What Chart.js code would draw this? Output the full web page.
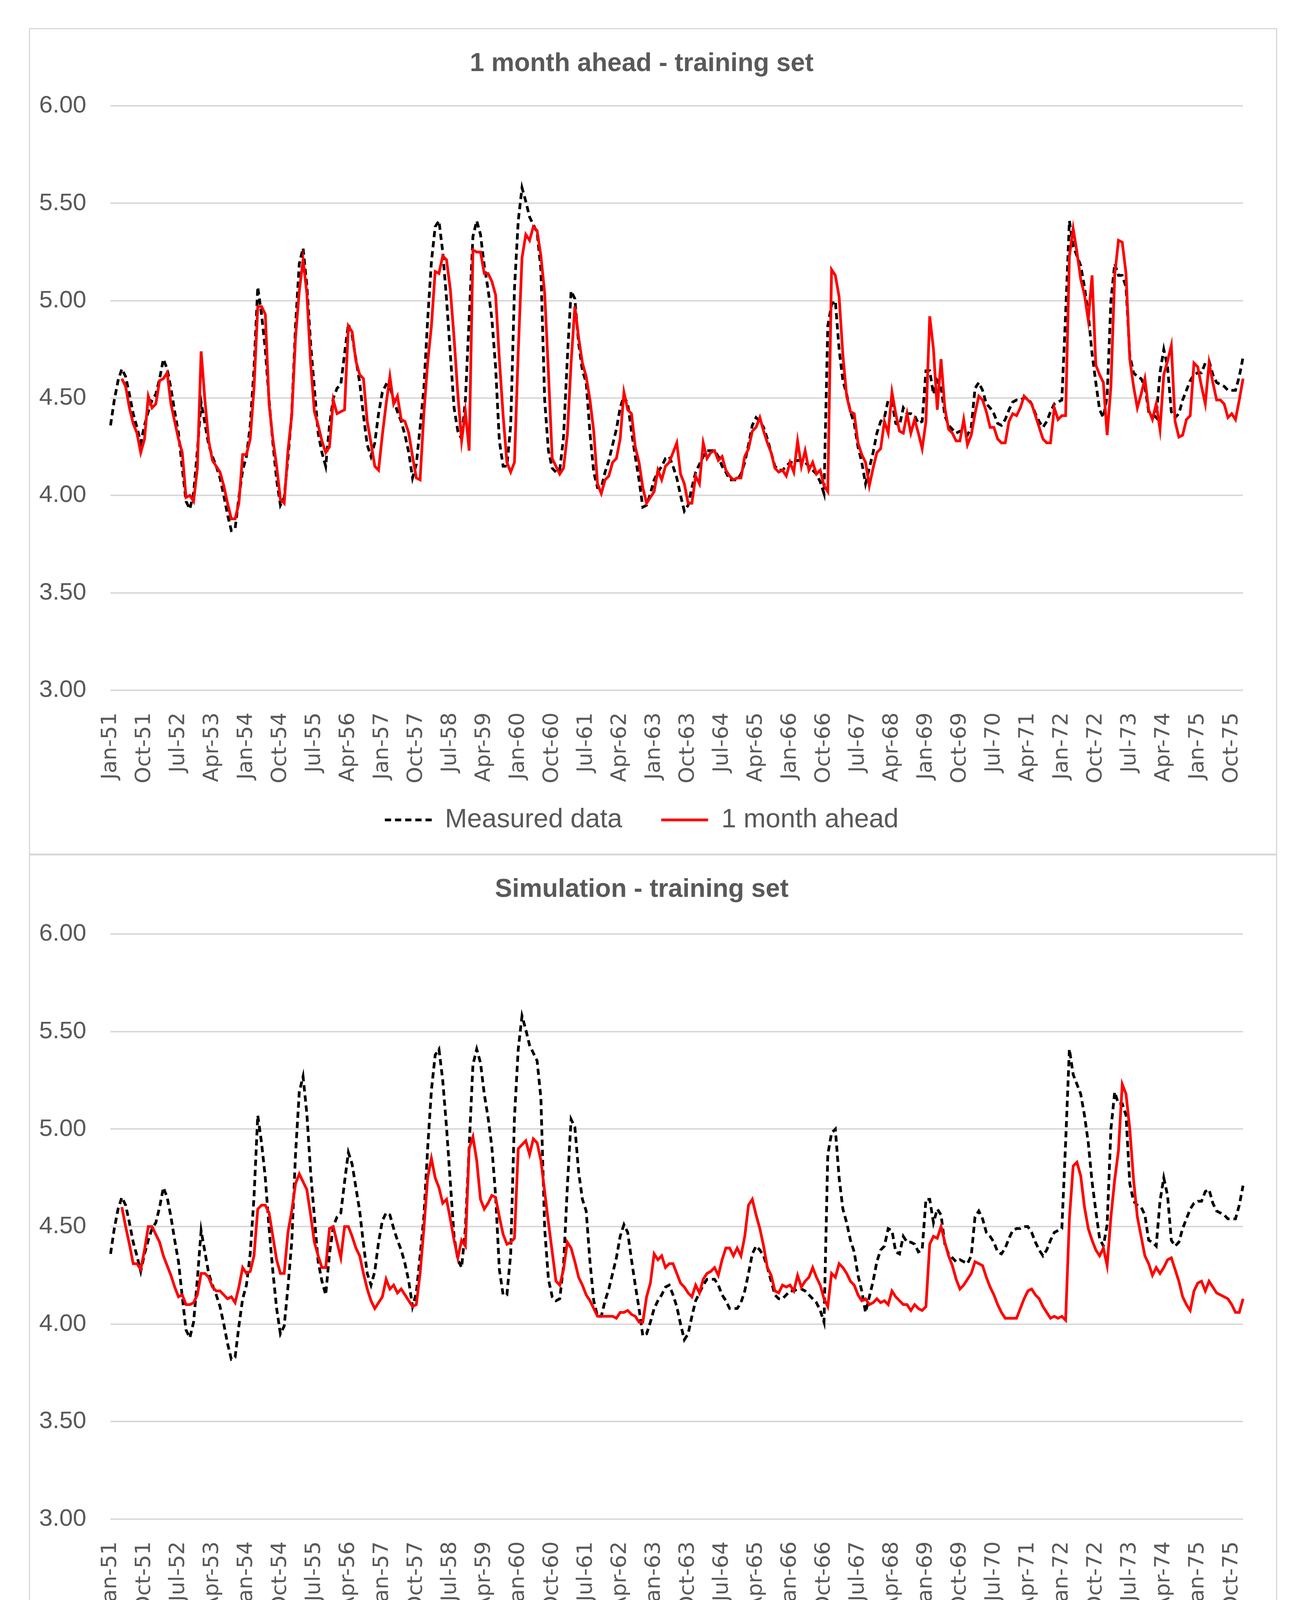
<!DOCTYPE html>
<html>
<head>
<meta charset="utf-8">
<script src="https://cdn.jsdelivr.net/npm/chart.js@4.4.1/dist/chart.umd.min.js"></script>
<style>
  body { margin: 0; background: #fff; width: 3331px; height: 4386px; position: relative; }
  .box { position: absolute; box-sizing: border-box; border: 3px solid #d9d9d9; }
  canvas { position: absolute; }
</style>
</head>
<body>
<div class="box" style="left:74px; top:72px; width:3196px; height:2116px;"></div>
<div class="box" style="left:74px; top:2187px; width:3196px; height:2122px;"></div>
<canvas id="top" width="3192" height="2110" style="left:76px; top:74px;"></canvas>
<canvas id="bottom" width="3192" height="2116" style="left:76px; top:2190px;"></canvas>
<script>
//-------------------- DATA -------------------
const monthNames = ['Jan','Feb','Mar','Apr','May','Jun','Jul','Aug','Sep','Oct','Nov','Dec'];
const categories = [];
for (let yr = 51; yr <= 76; yr++) {
    monthNames.forEach(m => categories.push(m + '-' + yr));
}
categories.length = 301; // Jan-51 .. Jan-76

// every 9th month gets a label, like the original axis
const tickStep = 9;
const yTicks = [3.0, 3.5, 4.0, 4.5, 5.0, 5.5, 6.0];

const measured = [
    4.36, 4.49, 4.59, 4.65, 4.61, 4.52, 4.42, 4.35, 4.27, 4.36,
    4.43, 4.49, 4.52, 4.60, 4.70, 4.65, 4.55, 4.43, 4.32, 4.14,
    3.97, 3.93, 4.01, 4.23, 4.48, 4.37, 4.26, 4.20, 4.15, 4.09,
    4.00, 3.90, 3.82, 3.83, 3.99, 4.13, 4.20, 4.36, 4.65, 5.07,
    4.93, 4.75, 4.49, 4.27, 4.08, 3.95, 3.99, 4.19, 4.42, 4.87,
    5.19, 5.27, 5.08, 4.78, 4.55, 4.32, 4.22, 4.15, 4.36, 4.50,
    4.55, 4.57, 4.73, 4.88, 4.82, 4.70, 4.58, 4.41, 4.26, 4.20,
    4.27, 4.42, 4.53, 4.57, 4.56, 4.49, 4.43, 4.38, 4.31, 4.22,
    4.09, 4.16, 4.35, 4.55, 4.90, 5.20, 5.38, 5.41, 5.25, 5.01,
    4.73, 4.45, 4.33, 4.29, 4.49, 4.91, 5.33, 5.41, 5.34, 5.18,
    5.06, 4.91, 4.66, 4.28, 4.15, 4.15, 4.36, 5.06, 5.41, 5.58,
    5.51, 5.43, 5.39, 5.35, 5.16, 4.49, 4.23, 4.14, 4.12, 4.13,
    4.30, 4.70, 5.05, 5.01, 4.78, 4.64, 4.58, 4.32, 4.12, 4.04,
    4.04, 4.12, 4.18, 4.26, 4.34, 4.45, 4.51, 4.47, 4.33, 4.20,
    4.08, 3.94, 3.95, 4.01, 4.08, 4.12, 4.15, 4.19, 4.20, 4.15,
    4.09, 4.00, 3.92, 3.95, 4.04, 4.12, 4.16, 4.20, 4.23, 4.23,
    4.23, 4.20, 4.15, 4.12, 4.08, 4.08, 4.08, 4.11, 4.17, 4.26,
    4.36, 4.40, 4.38, 4.35, 4.29, 4.22, 4.15, 4.13, 4.13, 4.15,
    4.17, 4.17, 4.18, 4.18, 4.17, 4.15, 4.13, 4.11, 4.07, 4.01,
    4.87, 4.98, 5.00, 4.75, 4.59, 4.52, 4.43, 4.37, 4.25, 4.17,
    4.06, 4.14, 4.22, 4.32, 4.38, 4.40, 4.49, 4.48, 4.37, 4.36,
    4.45, 4.42, 4.42, 4.41, 4.37, 4.38, 4.64, 4.64, 4.52, 4.59,
    4.56, 4.41, 4.36, 4.34, 4.32, 4.33, 4.32, 4.31, 4.35, 4.55,
    4.58, 4.54, 4.47, 4.45, 4.42, 4.37, 4.36, 4.39, 4.44, 4.48,
    4.49, 4.49, 4.50, 4.50, 4.47, 4.42, 4.38, 4.35, 4.38, 4.43,
    4.47, 4.48, 4.49, 4.93, 5.41, 5.28, 5.23, 5.18, 5.07, 4.93,
    4.73, 4.58, 4.44, 4.40, 4.51, 5.00, 5.19, 5.13, 5.13, 5.07,
    4.72, 4.63, 4.61, 4.60, 4.56, 4.43, 4.42, 4.40, 4.63, 4.75,
    4.66, 4.43, 4.40, 4.42, 4.49, 4.54, 4.59, 4.62, 4.63, 4.63,
    4.68, 4.69, 4.62, 4.58, 4.57, 4.56, 4.54, 4.54, 4.54, 4.61,
    4.71
];

const oneMonthAhead = [
    null, null, null, 4.60, 4.56, 4.45, 4.37, 4.32, 4.22, 4.29,
    4.51, 4.45, 4.47, 4.59, 4.60, 4.63, 4.47, 4.38, 4.29, 4.22,
    3.99, 4.00, 3.97, 4.14, 4.74, 4.49, 4.28, 4.18, 4.15, 4.12,
    4.05, 3.96, 3.88, 3.88, 3.96, 4.21, 4.21, 4.29, 4.55, 4.97,
    4.97, 4.93, 4.47, 4.29, 4.15, 3.98, 3.96, 4.23, 4.41, 4.81,
    5.05, 5.21, 5.04, 4.68, 4.43, 4.36, 4.28, 4.22, 4.25, 4.49,
    4.42, 4.43, 4.44, 4.87, 4.84, 4.69, 4.62, 4.60, 4.38, 4.27,
    4.15, 4.13, 4.31, 4.47, 4.61, 4.47, 4.51, 4.39, 4.38, 4.32,
    4.20, 4.09, 4.08, 4.42, 4.68, 4.87, 5.15, 5.14, 5.23, 5.21,
    5.06, 4.81, 4.52, 4.28, 4.43, 4.23, 5.26, 5.25, 5.25, 5.14,
    5.14, 5.10, 5.03, 4.70, 4.41, 4.17, 4.12, 4.17, 4.74, 5.22,
    5.34, 5.31, 5.38, 5.36, 5.23, 5.04, 4.63, 4.19, 4.15, 4.11,
    4.14, 4.31, 4.68, 4.97, 4.81, 4.68, 4.61, 4.49, 4.33, 4.06,
    4.01, 4.08, 4.10, 4.17, 4.19, 4.29, 4.53, 4.44, 4.42, 4.25,
    4.17, 4.04, 3.96, 3.99, 4.02, 4.13, 4.08, 4.15, 4.17, 4.22,
    4.27, 4.11, 4.06, 3.96, 3.96, 4.10, 4.06, 4.27, 4.19, 4.22,
    4.23, 4.18, 4.20, 4.13, 4.10, 4.08, 4.09, 4.09, 4.20, 4.24,
    4.33, 4.35, 4.40, 4.33, 4.27, 4.22, 4.14, 4.12, 4.13, 4.10,
    4.17, 4.12, 4.28, 4.15, 4.23, 4.13, 4.17, 4.11, 4.13, 4.05,
    4.02, 5.16, 5.13, 5.02, 4.72, 4.51, 4.43, 4.42, 4.27, 4.21,
    4.17, 4.05, 4.14, 4.22, 4.24, 4.38, 4.32, 4.53, 4.42, 4.33,
    4.32, 4.42, 4.32, 4.39, 4.32, 4.24, 4.38, 4.92, 4.75, 4.44,
    4.70, 4.45, 4.34, 4.32, 4.28, 4.28, 4.39, 4.26, 4.31, 4.42,
    4.51, 4.49, 4.43, 4.35, 4.35, 4.29, 4.27, 4.27, 4.38, 4.42,
    4.41, 4.45, 4.51, 4.49, 4.47, 4.41, 4.35, 4.29, 4.27, 4.27,
    4.45, 4.39, 4.41, 4.41, 5.23, 5.37, 5.25, 5.11, 5.03, 4.90,
    5.13, 4.67, 4.62, 4.58, 4.31, 4.56, 5.13, 5.31, 5.30, 5.14,
    4.70, 4.56, 4.45, 4.52, 4.60, 4.44, 4.39, 4.47, 4.34, 4.62,
    4.69, 4.77, 4.38, 4.30, 4.31, 4.39, 4.41, 4.68, 4.66, 4.56,
    4.47, 4.68, 4.58, 4.49, 4.49, 4.47, 4.40, 4.42, 4.39, 4.49,
    4.60
];

const simulation = [
    null, null, null, 4.60, 4.50, 4.41, 4.31, 4.31, 4.28, 4.38,
    4.50, 4.50, 4.46, 4.42, 4.35, 4.30, 4.25, 4.19, 4.14, 4.15,
    4.10, 4.10, 4.11, 4.15, 4.26, 4.26, 4.24, 4.19, 4.17, 4.17,
    4.15, 4.13, 4.14, 4.11, 4.19, 4.29, 4.26, 4.27, 4.35, 4.59,
    4.61, 4.61, 4.57, 4.45, 4.33, 4.26, 4.26, 4.47, 4.58, 4.72,
    4.77, 4.73, 4.69, 4.56, 4.42, 4.35, 4.29, 4.29, 4.49, 4.50,
    4.42, 4.34, 4.50, 4.50, 4.45, 4.39, 4.35, 4.26, 4.18, 4.12,
    4.08, 4.11, 4.14, 4.23, 4.18, 4.20, 4.16, 4.18, 4.15, 4.12,
    4.09, 4.10, 4.26, 4.49, 4.75, 4.85, 4.75, 4.70, 4.62, 4.64,
    4.54, 4.43, 4.34, 4.43, 4.40, 4.90, 4.96, 4.84, 4.64, 4.59,
    4.62, 4.66, 4.65, 4.55, 4.46, 4.41, 4.42, 4.44, 4.90, 4.92,
    4.94, 4.87, 4.95, 4.93, 4.84, 4.68, 4.52, 4.37, 4.22, 4.20,
    4.28, 4.42, 4.39, 4.32, 4.24, 4.20, 4.15, 4.12, 4.08, 4.04,
    4.04, 4.04, 4.04, 4.04, 4.03, 4.06, 4.06, 4.07, 4.05, 4.04,
    4.01, 4.01, 4.14, 4.21, 4.36, 4.33, 4.35, 4.29, 4.31, 4.31,
    4.26, 4.21, 4.19, 4.16, 4.14, 4.20, 4.16, 4.23, 4.26, 4.27,
    4.29, 4.25, 4.33, 4.39, 4.39, 4.35, 4.39, 4.35, 4.45, 4.61,
    4.64, 4.56, 4.49, 4.40, 4.29, 4.25, 4.17, 4.16, 4.20, 4.19,
    4.20, 4.17, 4.25, 4.19, 4.22, 4.24, 4.29, 4.24, 4.20, 4.13,
    4.09, 4.26, 4.24, 4.31, 4.29, 4.26, 4.22, 4.20, 4.15, 4.12,
    4.13, 4.10, 4.11, 4.13, 4.11, 4.12, 4.10, 4.17, 4.14, 4.12,
    4.10, 4.10, 4.07, 4.10, 4.08, 4.07, 4.09, 4.41, 4.45, 4.44,
    4.50, 4.42, 4.35, 4.30, 4.23, 4.18, 4.20, 4.23, 4.26, 4.32,
    4.31, 4.30, 4.24, 4.19, 4.15, 4.10, 4.06, 4.03, 4.03, 4.03,
    4.03, 4.08, 4.13, 4.17, 4.18, 4.15, 4.13, 4.09, 4.06, 4.03,
    4.04, 4.03, 4.04, 4.02, 4.54, 4.81, 4.83, 4.76, 4.60, 4.49,
    4.43, 4.38, 4.35, 4.39, 4.30, 4.55, 4.74, 4.89, 5.23, 5.18,
    5.00, 4.74, 4.55, 4.45, 4.35, 4.31, 4.25, 4.29, 4.26, 4.29,
    4.33, 4.34, 4.28, 4.22, 4.14, 4.10, 4.07, 4.17, 4.21, 4.22,
    4.17, 4.22, 4.19, 4.16, 4.15, 4.14, 4.13, 4.10, 4.06, 4.06,
    4.13
];

//-------------------- CONFIG -------------------
const textGrey = '#595959';
const fontName = "'Liberation Sans', Arial, sans-serif";

// pull the legend up a bit: the x scale box has to be tall so the
// rotated month labels are not clipped
const legendShift = {
    id: 'legendShift',
    afterLayout(chart, args, opts) {
        const lg = chart.legend;
        if (lg) {
            lg.top -= opts.dy;
            lg.bottom -= opts.dy;
        }
    }
};

function legendItems(chart) {
    return chart.data.datasets.map((ds, i) => ({
        text: ds.label,
        fillStyle: ds.borderColor,
        strokeStyle: ds.borderColor,
        fontColor: textGrey,
        lineWidth: ds.borderWidth,
        lineDash: ds.borderDash || [],
        lineCap: 'butt',
        pointStyle: 'line',
        hidden: false,
        datasetIndex: i
    }));
}

function makeChart(id, title, lineLabel, lineData, lay) {
    return new Chart(document.getElementById(id), {
        type: 'line',
        data: {
            labels: categories,
            datasets: [{
                label: 'Measured data',
                data: measured,
                borderColor: '#000000',
                backgroundColor: '#000000',
                borderWidth: 7,
                borderDash: [16, 10],
                pointRadius: 0,
                tension: 0,
                order: 2
            }, {
                label: lineLabel,
                data: lineData,
                borderColor: '#ff0000',
                backgroundColor: '#ff0000',
                borderWidth: 7,
                pointRadius: 0,
                tension: 0,
                order: 1
            }]
        },
        plugins: [legendShift],
        options: {
            responsive: false,
            animation: false,
            devicePixelRatio: 1,
            layout: { padding: { left: 0, right: 58, top: 0, bottom: lay.padBottom } },
            plugins: {
                tooltip: { enabled: false },
                legendShift: { dy: lay.legendUp },
                title: {
                    display: true,
                    text: title,
                    color: textGrey,
                    font: { family: fontName, size: 66, weight: 'bold' },
                    padding: { top: lay.titleTop, bottom: lay.titleBottom }
                },
                legend: {
                    position: 'bottom',
                    labels: {
                        color: textGrey,
                        font: { family: fontName, size: 68 },
                        usePointStyle: true,
                        pointStyleWidth: 120,
                        padding: 100,
                        generateLabels: legendItems
                    }
                }
            },
            scales: {
                x: {
                    grid: { display: false },
                    border: { display: false },
                    ticks: {
                        autoSkip: false,
                        minRotation: 90,
                        maxRotation: 90,
                        padding: 49,
                        color: textGrey,
                        font: { family: "'DejaVu Sans', sans-serif", size: 54 },
                        callback: (v, i) => (i % tickStep === 0 ? categories[i] : null)
                    },
                    afterFit: s => { s.height = 236; }
                },
                y: {
                    min: yTicks[0],
                    max: yTicks[yTicks.length - 1],
                    grid: { color: '#d9d9d9', lineWidth: 4, drawTicks: false },
                    border: { display: false },
                    ticks: {
                        stepSize: 0.5,
                        padding: 62,
                        color: textGrey,
                        font: { family: fontName, size: 62 },
                        callback: v => v.toFixed(2)
                    },
                    afterFit: s => { s.width = 207; }
                }
            }
        }
    });
}

//-------------------- RENDER -------------------
makeChart('top', '1 month ahead - training set', '1 month ahead', oneMonthAhead,
    { titleTop: 50, titleBottom: 68, padBottom: 3, legendUp: 38 });
makeChart('bottom', 'Simulation - training set', 'Simulation', simulation,
    { titleTop: 48, titleBottom: 74, padBottom: 3, legendUp: 36 });
</script>
</body>
</html>
